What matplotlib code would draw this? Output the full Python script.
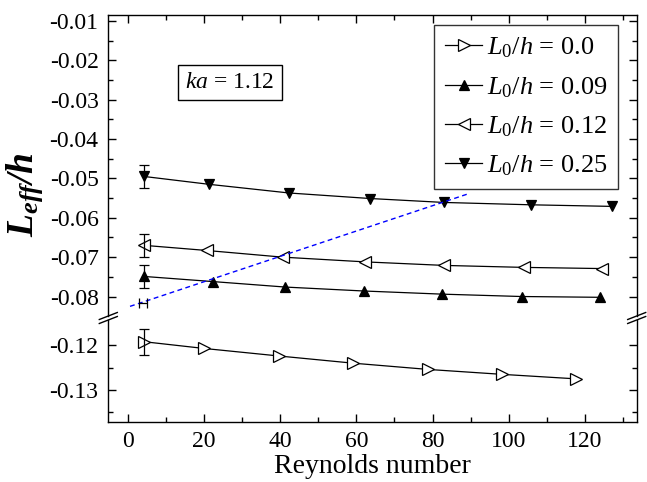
import matplotlib
matplotlib.use('Agg')
import matplotlib.pyplot as plt
from matplotlib.lines import Line2D
from matplotlib.ticker import MultipleLocator, FixedLocator, FormatStrFormatter

plt.rcParams['font.family'] = ['Liberation Serif', 'DejaVu Serif']
plt.rcParams['mathtext.fontset'] = 'custom'
plt.rcParams['mathtext.rm'] = 'Liberation Serif'
plt.rcParams['mathtext.it'] = 'Liberation Serif:italic'
plt.rcParams['mathtext.bf'] = 'Liberation Serif:bold'
plt.rcParams['mathtext.bfit'] = 'Liberation Serif:italic:bold'
plt.rcParams['axes.unicode_minus'] = False

# data
re_000 = [4.3, 20.0, 39.8, 59.2, 78.9, 98.3, 117.6]
l_000 = [-0.1192, -0.1207, -0.1224, -0.1240, -0.1254, -0.1265, -0.1275]
re_009 = [4.3, 22.3, 41.4, 62.0, 82.6, 103.4, 123.9]
l_009 = [-0.0749, -0.0762, -0.0776, -0.0786, -0.0794, -0.0800, -0.0802]
re_012 = [4.3, 20.7, 40.7, 62.3, 83.1, 104.0, 124.6]
l_012 = [-0.0670, -0.0683, -0.0700, -0.0712, -0.0721, -0.0726, -0.0729]
re_025 = [4.3, 21.4, 42.4, 63.6, 83.0, 105.9, 127.0]
l_025 = [-0.0495, -0.0515, -0.0537, -0.0551, -0.0561, -0.0567, -0.0571]
# error bar on the first point of each series
err_000 = 0.0029
err_009 = 0.0029
err_012 = 0.0030
err_025 = 0.0029

# dashed blue line and its point with horizontal error
fit_re = [0.6, 89.4]
fit_l = [-0.0825, -0.0539]
fit_pt_re = 4.1
fit_pt_l = -0.0816
fit_pt_xerr = 1.05

labels = [r'$L_0/h$ = 0.0', r'$L_0/h$ = 0.09', r'$L_0/h$ = 0.12', r'$L_0/h$ = 0.25']

W, H = 647, 482
fig = plt.figure(figsize=(W / 100, H / 100), dpi=100)

left_px, right_px = 108.3, 636.7
top_px, brk_hi, brk_lo, bot_px = 15, 316, 320, 421.7
x0 = left_px / W
w = (right_px - left_px) / W
ax_top = fig.add_axes([x0, 1 - brk_hi / H, w, (brk_hi - top_px) / H])
ax_bot = fig.add_axes([x0, 1 - bot_px / H, w, (bot_px - brk_lo) / H])

line_kw = dict(color='black', lw=0.9, mew=0.9, mec='black')
open_kw = dict(mfc='white', ms=8)
fill_kw = dict(mfc='black', ms=7.5)
err_kw = dict(fmt='none', ecolor='black', elinewidth=0.9, capsize=3.5, capthick=0.9)

h1, = ax_top.plot([], [], marker='>', label=labels[0], **line_kw, **open_kw)
h2, = ax_top.plot(re_009, l_009, marker='^', label=labels[1], **line_kw, **fill_kw)
h3, = ax_top.plot(re_012, l_012, marker='<', label=labels[2], **line_kw, **open_kw)
h4, = ax_top.plot(re_025, l_025, marker='v', label=labels[3], **line_kw, **fill_kw)
ax_top.errorbar(re_009[0], l_009[0], yerr=err_009, **err_kw)
ax_top.errorbar(re_012[0], l_012[0], yerr=err_012, **err_kw)
ax_top.errorbar(re_025[0], l_025[0], yerr=err_025, **err_kw)

ax_top.plot(fit_re, fit_l, color='blue', lw=1.0, ls=(0, (3.5, 2.5)))
ax_top.errorbar(fit_pt_re, fit_pt_l, xerr=fit_pt_xerr, **err_kw)

ax_bot.plot(re_000, l_000, marker='>', **line_kw, **open_kw)
ax_bot.errorbar(re_000[0], l_000[0], yerr=err_000, **err_kw)

xlim = (-5.1, 133.6)
for ax in (ax_top, ax_bot):
    ax.set_xlim(*xlim)
    ax.xaxis.set_major_locator(MultipleLocator(20))
    ax.xaxis.set_minor_locator(MultipleLocator(10))
    ax.yaxis.set_major_formatter(FormatStrFormatter('%.2f'))
    ax.tick_params(which='both', direction='in', width=1.0, labelsize=17, pad=7)
    ax.tick_params(which='major', length=6)
    ax.tick_params(which='minor', length=3.5)
    for s in ax.spines.values():
        s.set_linewidth(1.0)

ax_top.set_ylim(-0.08495, -0.008476)
ax_top.yaxis.set_major_locator(MultipleLocator(0.01))
ax_top.yaxis.set_minor_locator(MultipleLocator(0.005))
ax_top.spines['bottom'].set_visible(False)
ax_top.tick_params(which='both', bottom=False, labelbottom=False, top=True, right=True)

ax_bot.set_ylim(-0.13709, -0.11434)
ax_bot.yaxis.set_major_locator(FixedLocator([-0.12, -0.13]))
ax_bot.yaxis.set_minor_locator(FixedLocator([-0.125, -0.135]))
ax_bot.spines['top'].set_visible(False)
ax_bot.tick_params(which='both', top=False, right=True)
ax_bot.set_xlabel('Reynolds number', fontsize=20, labelpad=1)

# break marks
for xp in (left_px, right_px):
    for yp in (brk_hi, brk_lo):
        fig.add_artist(Line2D([(xp - 9) / W, (xp + 9) / W],
                              [1 - (yp + 3.5) / H, 1 - (yp - 3.5) / H],
                              transform=fig.transFigure, color='black', lw=1.0))

fig.text(25 / W, 1 - 195 / H, r'$\mathbfit{L_{eff}/h}$', rotation=90,
         fontsize=27, ha='center', va='center')

fig.text(229.8 / W, 1 - 82.8 / H, r'$ka$ = 1.12', fontsize=17, ha='center', va='center',
         bbox=dict(boxstyle='square,pad=0.3', fc='white', ec='black', lw=1.0))

leg = ax_top.legend(handles=[h1, h2, h3, h4], loc='upper right',
                    bbox_to_anchor=(618.3 / W, 1 - 25 / H), bbox_transform=fig.transFigure,
                    borderaxespad=0, fontsize=19, numpoints=1, handlelength=1.4,
                    handletextpad=0.2, labelspacing=0.56, borderpad=0.4,
                    fancybox=False, frameon=True)
leg.get_frame().set_edgecolor('black')
leg.get_frame().set_linewidth(1.0)

fig.savefig('out.png', dpi=100)
